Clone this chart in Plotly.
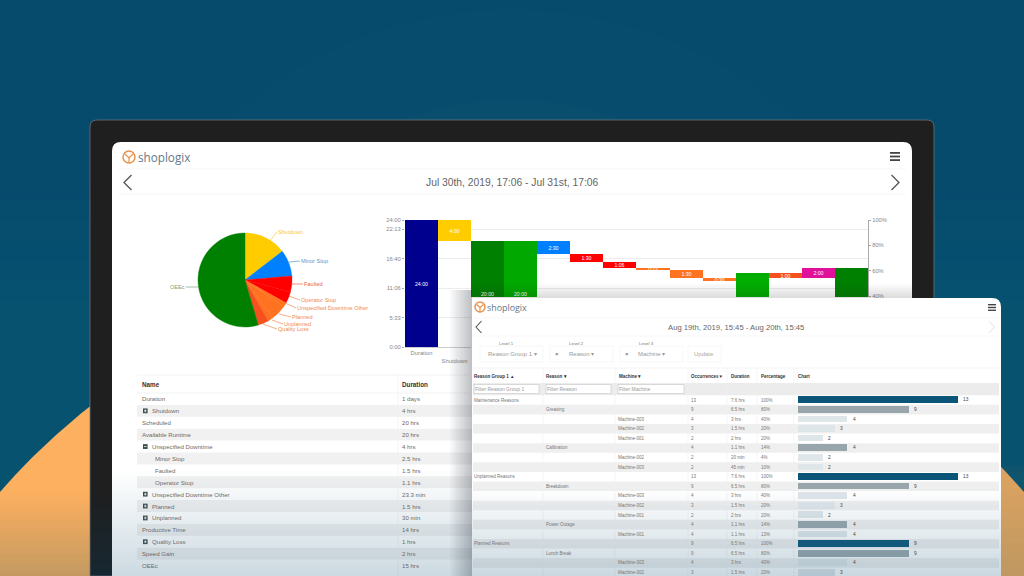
import plotly.graph_objects as go

W, H = 1024, 576

# ---------- data ----------
wf_categories = ["Duration", "Shutdown", "Scheduled", "Available Runtime", "Minor Stop", "Faulted",
                 "Operator Stop", "Unspecified Downtime Other", "Planned", "Unplanned",
                 "Productive Time", "Quality Loss", "Speed Gain", "OEEc"]
wf_base = [0, 20, 0, 0, 17.5, 16, 14.9, 14.5, 13, 12.5, 0, 13, 13, 0]
wf_top = [24, 24, 20, 20, 20, 17.5, 16, 14.9, 14.5, 13, 14, 14, 15, 15]
wf_labels = ["24:00", "4:00", "20:00", "20:00", "2:30", "1:30", "1:06", "0:23", "1:30", "0:30",
             "14:00", "1:00", "2:00", "15:00"]
wf_colors = ["#00008f", "#ffcc00", "#008000", "#00a800", "#0080ff", "#ff0000", "#ff0000", "#ff7320",
             "#ff7320", "#ff7320", "#00ad00", "#f6501e", "#e0109a", "#008000"]
hour_ticks = [0, 5.55, 11.1, 16.67, 22.22, 24]
hour_tick_labels = ["0:00", "5:33", "11:06", "16:40", "22:13", "24:00"]
pct_ticks = [40, 60, 80, 100]

pie_labels = ["Shutdown", "Minor Stop", "Faulted", "Operator Stop", "Unspecified Downtime Other",
              "Planned", "Unplanned", "Quality Loss", "OEEc"]
pie_values = [4, 2.5, 1.5, 1.1, 0.39, 1.5, 0.5, 1, 15]
pie_colors = ["#ffcc00", "#0080ff", "#ff0000", "#ff0000", "#ff7320", "#ff7320", "#ff7320", "#f6501e", "#008000"]

t1_names = ["Duration", "Shutdown", "Scheduled", "Available Runtime", "Unspecified Downtime", "Minor Stop",
            "Faulted", "Operator Stop", "Unspecified Downtime Other", "Planned", "Unplanned",
            "Productive Time", "Quality Loss", "Speed Gain", "OEEc"]
t1_durations = ["1 days", "4 hrs", "20 hrs", "20 hrs", "4 hrs", "2.5 hrs", "1.5 hrs", "1.1 hrs", "23.3 min",
                "1.5 hrs", "30 min", "14 hrs", "1 hrs", "2 hrs", "15 hrs"]
t1_icons = ["", "+", "", "", "-", "", "", "", "+", "+", "+", "", "+", "", ""]
t1_indent = [0, 1, 0, 0, 1, 2, 2, 2, 1, 1, 1, 0, 1, 0, 0]

t2_group = ["Maintenance Reasons", "", "", "", "", "", "", "", "Unplanned Reasons", "", "", "", "", "", "",
            "Planned Reasons", "", "", ""]
t2_reason = ["", "Greasing", "", "", "", "Calibration", "", "", "", "Breakdown", "", "", "", "Power Outage", "",
             "", "Lunch Break", "", ""]
t2_machine = ["", "", "Machine-003", "Machine-002", "Machine-001", "", "Machine-002", "Machine-003", "", "",
              "Machine-003", "Machine-002", "Machine-001", "", "Machine-001", "", "", "Machine-003", "Machine-002"]
t2_occ = [13, 9, 4, 3, 2, 4, 2, 2, 13, 9, 4, 3, 2, 4, 4, 9, 9, 4, 3]
t2_dur = ["7.6 hrs", "6.5 hrs", "3 hrs", "1.5 hrs", "2 hrs", "1.1 hrs", "20 min", "45 min", "7.6 hrs", "6.5 hrs",
          "3 hrs", "1.5 hrs", "2 hrs", "1.1 hrs", "1.1 hrs", "6.5 hrs", "6.5 hrs", "3 hrs", "1.5 hrs"]
t2_pct = ["100%", "80%", "40%", "20%", "20%", "14%", "4%", "10%", "100%", "80%", "40%", "20%", "20%", "14%", "13%",
          "100%", "80%", "40%", "20%"]
t2_level = [1, 2, 3, 3, 3, 2, 3, 3, 1, 2, 3, 3, 3, 2, 3, 1, 2, 3, 3]
level_color = {1: "#0a5578", 2: "#98a6ab", 3: "#dfe6ea"}

# ---------- layout helpers ----------
shapes, notes = [], []
FONT = "Liberation Sans"

def fx(x): return x / W
def fy(y): return 1 - y / H

def rect(x0, y0, x1, y1, fill, layer="below", line=None):
    shapes.append(dict(type="rect", xref="paper", yref="paper", x0=fx(x0), x1=fx(x1), y0=fy(y0), y1=fy(y1),
                       fillcolor=fill, layer=layer, line=dict(width=0.7 if line else 0, color=line or "rgba(0,0,0,0)")))

def line(x0, y0, x1, y1, color, width=0.7, layer="below"):
    shapes.append(dict(type="line", xref="paper", yref="paper", x0=fx(x0), x1=fx(x1), y0=fy(y0), y1=fy(y1),
                       layer=layer, line=dict(color=color, width=width)))

def poly(points, color, width=1.3):
    d = "M " + " L ".join(f"{fx(a):.5f},{fy(b):.5f}" for a, b in points)
    shapes.append(dict(type="path", xref="paper", yref="paper", path=d, layer="below",
                       line=dict(color=color, width=width)))

def rrect(x0, y0, x1, y1, r, fill, border=None):
    rx, ry = r / W, r / H
    a, b, c, d = fx(x0), fy(y0), fx(x1), fy(y1)
    p = (f"M {a+rx},{b} L {c-rx},{b} Q {c},{b} {c},{b-ry} L {c},{d} L {a},{d} L {a},{b-ry} Q {a},{b} {a+rx},{b} Z")
    shapes.append(dict(type="path", xref="paper", yref="paper", path=p, fillcolor=fill, layer="below",
                       line=dict(width=0.8 if border else 0, color=border or "rgba(0,0,0,0)")))

def circle(cx, cy, r, fill, layer="below", border=None, bw=0):
    shapes.append(dict(type="circle", xref="paper", yref="paper", x0=fx(cx - r), x1=fx(cx + r),
                       y0=fy(cy + r), y1=fy(cy - r), fillcolor=fill, layer=layer,
                       line=dict(width=bw, color=border or "rgba(0,0,0,0)")))

def text(x, y, s, size=7, color="#666", anchor="left", bold=False, family=FONT):
    notes.append(dict(xref="paper", yref="paper", x=fx(x), y=fy(y), text=f"<b>{s}</b>" if bold else s,
                      showarrow=False, xanchor=anchor, yanchor="middle", borderpad=0, borderwidth=0,
                      font=dict(size=size, color=color, family=family)))

def burger(x0, y0, x1, y1):
    h = (y1 - y0) / 5
    for k in (0, 2, 4):
        rect(x0, y0 + k * h, x1, y0 + (k + 1) * h, "#444")

def logo(cx, cy, r, tx, size):
    circle(cx, cy, r, "rgba(0,0,0,0)", border="#e8924e", bw=1.5)
    poly([(cx - r * .7, cy - r * .5), (cx, cy + r * .1), (cx + r * .7, cy - r * .5)], "#e8924e", 1.2)
    poly([(cx, cy + r * .1), (cx, cy + r)], "#e8924e", 1.2)
    text(tx, cy, "shoplogix", size, "#62788a", family="Open Sans")

# ---------- background ----------
BG = "#06506f"
rect(0, 0, W, 160, "#064a6c")
for k in range(14):
    rect(0, 160 + k * 10, W, 170 + k * 10, f"rgb(6,{74 + k // 2},{108 + k // 3})")
rect(0, 300, W, H, "#06526f")
circle(512, 430, 420, "rgba(255,255,255,0.012)")
circle(512, 430, 330, "rgba(255,255,255,0.010)")
circle(512, 938, 679, "#fdb060")
for y in range(490, H, 2):   # orange fades toward the bottom of the picture
    a = 0.30 * (y - 490) / (H - 490)
    rect(0, y, 90, y + 2, f"rgba(60,100,100,{a:.3f})")
for y in range(466, H, 2):
    a = 0.16 + 0.16 * (y - 466) / (H - 466)
    rect(1001, y, W, y + 2, f"rgba(60,100,100,{a:.3f})")
circle(1090, 398, 0.001, "rgba(0,0,0,0)")

# monitor and first panel
rrect(90, 120, 934, H, 7, "#1f1f1f", border="#6d7478")
for y in range(490, H, 3):
    a = 0.25 * (y - 490) / (H - 490)
    rect(91, y, 112, y + 3, f"rgba(0,70,110,{a:.3f})")
rrect(112, 142, 912, H, 9, "#ffffff")
logo(129, 157, 6, 138, 11.7)
burger(890, 152, 900, 161)
line(118, 169, 906, 169, "#f2f2f2")
line(118, 194, 906, 194, "#f2f2f2")
poly([(131.5, 175), (124, 182.5), (131.5, 190)], "#555")
poly([(891.5, 175), (899, 182.5), (891.5, 190)], "#555")
text(512, 182, "Jul 30th, 2019, 17:06 - Jul 31st, 17:06", 10.3, "#666", "center")

# pie leaders and labels
pie_leaders = [
    ("Shutdown", (268, 243), (277, 232), "#f8c840"), ("Minor Stop", (289, 262), (300, 261), "#5a95cc"),
    ("Faulted", (292, 284), (303, 284), "#f0603c"), ("Operator Stop", (286, 295), (300, 300), "#f08a50"),
    ("Unspecified Downtime Other", (285, 303), (296, 308), "#f08a50"), ("Planned", (279, 314), (291, 317), "#f08a50"),
    ("Unplanned", (272, 320), (283, 324), "#f08a50"), ("Quality Loss", (263, 324), (277, 329), "#f08a50"),
]
for name, a, b, col in pie_leaders:
    line(a[0], a[1], b[0], b[1], col, 0.7)
    text(b[0] + 1, b[1], name, 5.6, col)
line(186, 287, 198, 287, "#7da07d", 0.7)
text(185, 287, "OEEc", 5.6, "#7da07d", "right")

# table 1
T1_TOP, T1_STEP = 393, 11.9
line(137, 375, 470, 375, "#eeeeee")
line(137, 393, 470, 393, "#eeeeee")
line(398, 375, 398, H, "#efefef")
text(142, 384, "Name", 6.3, "#333", bold=True)
text(402, 384, "Duration", 6.3, "#333", bold=True)
for i, name in enumerate(t1_names):
    yc = T1_TOP + (i + 0.5) * T1_STEP
    if i % 2 == 1:
        rect(137, yc - T1_STEP / 2, 472, yc + T1_STEP / 2, "#f1f1f1")
    tx = {0: 142, 1: 152, 2: 155}[t1_indent[i]]
    text(tx, yc, name, 6.1, "#6b6b6b")
    text(402, yc, t1_durations[i], 6.1, "#6b6b6b")
    if t1_icons[i]:
        rect(143, yc - 2.4, 147.6, yc + 2.4, "#3d4a4a")
        line(144, yc, 146.6, yc, "#ffffff", 0.8)
        if t1_icons[i] == "+":
            line(145.3, yc - 1.4, 145.3, yc + 1.4, "#ffffff", 0.8)

# fade over first panel
for y in range(470, H, 1):
    rect(112, y, 472, y + 1, f"rgba(60,110,140,{0.26 * (y - 470) / (H - 470):.3f})", layer="above")

# shadow thrown by second panel
for k in range(11):
    rect(450 + k * 2, 290, 452 + k * 2, H, f"rgba(30,40,50,{0.026 * (k + 1):.3f})", layer="above")
for k in range(7):
    rect(472, 284 + k * 2, 912, 286 + k * 2, f"rgba(40,40,40,{0.022 * (k + 1):.3f})", layer="above")

# second panel
rrect(472, 298, 1001, H, 9, "#ffffff")
logo(480, 307, 5, 486.5, 8.9)
burger(988, 304, 996, 311)
line(474, 318, 999, 318, "#f3f3f3")
line(474, 336, 999, 336, "#f3f3f3")
poly([(481.5, 321), (476, 327), (481.5, 333)], "#555", 1.1)
poly([(989, 321), (994.5, 327), (989, 333)], "#e8e8e8", 1.1)
text(736, 327, "Aug 19th, 2019, 15:45 - Aug 20th, 15:45", 7.7, "#666", "center")

for label, bx0, bx1, lx in [("Level 1", 480, 543, 506), ("Level 2", 550, 613, 576), ("Level 3", 620, 683, 646)]:
    text(lx, 343, label, 4.4, "#777", "center")
    rect(bx0, 346, bx1, 362, "#ffffff", line="#f4f4f4")
rect(688, 346, 721, 362, "#ffffff", line="#f4f4f4")
text(488, 354, "Reason Group 1 ▾", 6, "#999")
text(555, 354, "×", 6, "#555")
text(569, 354, "Reason ▾", 6, "#999")
text(625, 354, "×", 6, "#555")
text(638, 354, "Machine ▾", 6, "#999")
text(694, 354, "Update", 6, "#aaa")

# table 2
line(473, 368, 999, 368, "#eeeeee")
rect(473, 383, 999, 395.2, "#ececec")
for xs, lab in [(474, "Reason Group 1 ▲"), (546, "Reason ▾"), (619, "Machine ▾"), (691, "Occurrences▼"),
                (731, "Duration"), (761, "Percentage"), (798, "Chart")]:
    text(xs, 376, lab, 4.5, "#333", bold=True)
for x0, x1, lab in [(474, 539, "Filter Reason Group 1"), (546, 611, "Filter Reason"), (618, 684, "Filter Machine")]:
    rect(x0, 384.5, x1, 393.5, "#ffffff", line="#cccccc")
    text(x0 + 1, 389, lab, 5, "#999")

R_TOP, R_STEP = 400, 9.585
for i in range(len(t2_occ)):
    yc = R_TOP + i * R_STEP
    if i % 2 == 1:
        rect(473, yc - R_STEP / 2, 999, yc + R_STEP / 2, "#efefef")
    if t2_group[i]: text(474, yc, t2_group[i], 4.5, "#777")
    if t2_reason[i]: text(546, yc, t2_reason[i], 4.5, "#777")
    if t2_machine[i]: text(618, yc, t2_machine[i], 4.5, "#777")
    text(691, yc, str(t2_occ[i]), 4.5, "#777")
    text(731, yc, t2_dur[i], 4.5, "#777")
    text(761, yc, t2_pct[i], 4.5, "#777")
    notes.append(dict(xref="x4", yref="y4", x=t2_occ[i], y=i, text=str(t2_occ[i]), showarrow=False, xanchor="left",
                      yanchor="middle", xshift=3.5, font=dict(size=4.8, color="#444", family=FONT)))
for xs in (543, 615, 688, 727, 757, 794):
    line(xs, 368, xs, H, "#f0f0f0")

# fade over second panel
for y in range(488, H, 1):
    rect(472, y, 1001, y + 1, f"rgba(60,110,140,{0.27 * (y - 488) / (H - 488):.3f})", layer="above")

# ---------- traces ----------
fig = go.Figure()
wf_h = [t - b for t, b in zip(wf_top, wf_base)]

def wf_trace(lo, hi, xa, ya):
    return go.Bar(x=wf_categories[lo:hi], y=wf_h[lo:hi], base=wf_base[lo:hi], text=wf_labels[lo:hi],
                  marker=dict(color=wf_colors[lo:hi], line=dict(width=0)), textposition="inside",
                  insidetextanchor="middle", textangle=0, constraintext="none",
                  textfont=dict(size=5.2, color="#ffffff", family=FONT), xaxis=xa, yaxis=ya,
                  showlegend=False, hoverinfo="skip")

fig.add_trace(wf_trace(0, 2, "x", "y"))
fig.add_trace(wf_trace(2, 14, "x2", "y2"))
fig.add_trace(go.Scatter(x=wf_categories[2:2 + len(pct_ticks)], y=pct_ticks, mode="markers", opacity=0,
                         xaxis="x2", yaxis="y3", showlegend=False, hoverinfo="skip"))
fig.add_trace(go.Pie(labels=pie_labels, values=pie_values, sort=False, direction="clockwise", rotation=0,
                     marker=dict(colors=pie_colors, line=dict(width=0.4, color=pie_colors)), textinfo="none",
                     showlegend=False, hoverinfo="skip",
                     domain=dict(x=[fx(198), fx(292)], y=[fy(327), fy(233)])))
fig.add_trace(go.Bar(y=list(range(len(t2_occ))), x=t2_occ, orientation="h", width=0.7,
                     marker=dict(color=[level_color[v] for v in t2_level], line=dict(width=0)),
                     xaxis="x4", yaxis="y4", showlegend=False, hoverinfo="skip"))

GRID = "#ececec"
TICK = dict(size=5.8, color="#888", family=FONT)
Y_TOP, Y_BOT, CUT = 220, 347, 297
hours_cut = (Y_BOT - CUT) / (Y_BOT - Y_TOP) * 24
pct_cut = hours_cut / 24 * 100

fig.update_layout(
    template="none",
    width=W, height=H, margin=dict(l=0, r=0, t=0, b=0), paper_bgcolor=BG, plot_bgcolor="rgba(0,0,0,0)",
    autosize=False, bargap=0, shapes=shapes, annotations=notes, showlegend=False,
    xaxis=dict(domain=[fx(405), fx(471)], type="category", range=[-0.5, 1.5], showgrid=False, showline=True,
               linecolor="#cccccc", ticks="", tickvals=wf_categories[:2], ticktext=["Duration", "<br>Shutdown"],
               tickfont=TICK, tickangle=0, anchor="y", fixedrange=True),
    yaxis=dict(domain=[fy(Y_BOT), fy(Y_TOP)], range=[0, 24], tickvals=hour_ticks, ticktext=hour_tick_labels,
               showgrid=True, gridcolor=GRID, gridwidth=0.7, ticks="outside", ticklen=2, tickcolor="#aaa",
               tickfont=TICK, zeroline=False, showline=False, anchor="x", fixedrange=True),
    xaxis2=dict(domain=[fx(471), fx(868)], type="category", range=[-0.5, 11.5], visible=False, anchor="y2",
                categoryorder="array", categoryarray=wf_categories[2:], fixedrange=True),
    yaxis2=dict(domain=[fy(CUT), fy(Y_TOP)], range=[hours_cut, 24], tickvals=hour_ticks, showticklabels=False,
                showgrid=True, gridcolor=GRID, gridwidth=0.7, ticks="", zeroline=False, showline=False,
                anchor="x2", fixedrange=True),
    yaxis3=dict(domain=[fy(CUT), fy(Y_TOP)], range=[pct_cut, 100], overlaying="y2", side="right", anchor="x2",
                tickvals=pct_ticks, ticktext=[f"{v}%" for v in pct_ticks], showgrid=False, showline=True,
                linecolor="#aaaaaa", ticks="outside", ticklen=2, tickcolor="#aaa", tickfont=TICK, zeroline=False,
                fixedrange=True),
    xaxis4=dict(domain=[fx(798), fx(1001)], range=[0, 203 / 12.3], visible=False, anchor="y4", fixedrange=True),
    yaxis4=dict(domain=[0, fy(395.2)], range=[(H - R_TOP) / R_STEP, -0.5], visible=False, anchor="x4", fixedrange=True),
)

fig.write_html("out.html", config=dict(displayModeBar=False),
               post_script="document.body.style.margin='0';document.body.style.overflow='hidden';")
